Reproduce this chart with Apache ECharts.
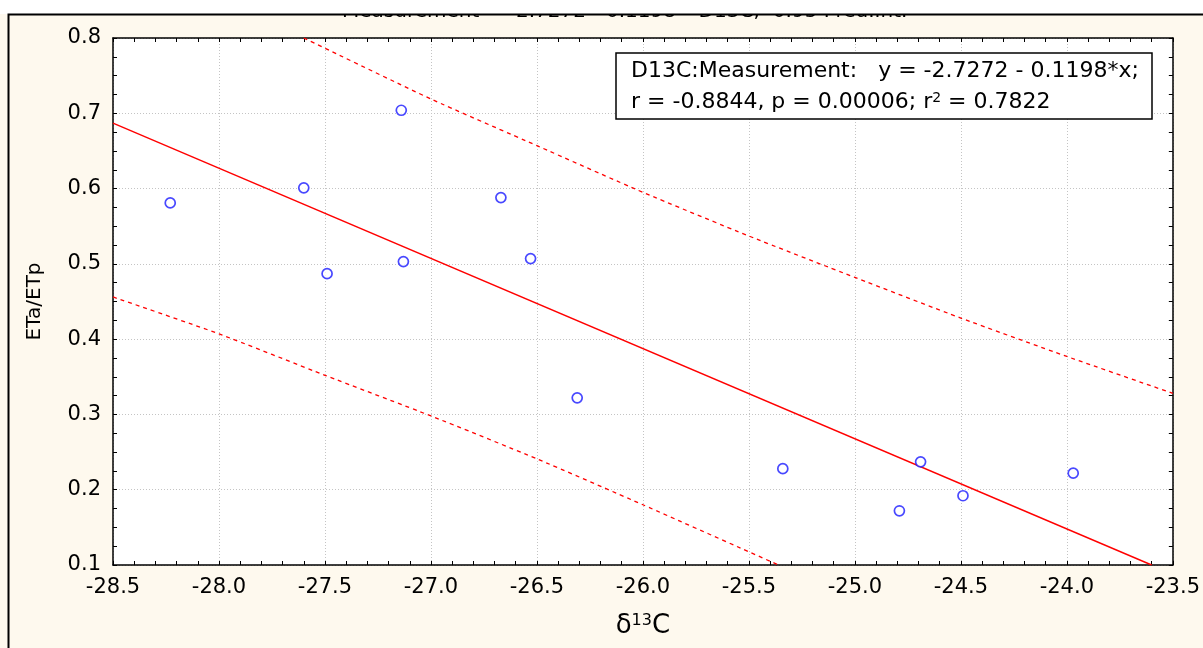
<!DOCTYPE html>
<html><head><meta charset="utf-8">
<script src="https://cdn.jsdelivr.net/npm/echarts@6/dist/echarts.min.js"></script>
<style>html,body{margin:0;padding:0;background:#fff}#c{width:1203px;height:648px}</style>
</head><body><div id="c"></div>
<script>
const d13c    = [-28.23, -27.60, -27.49, -27.14, -27.13, -26.67, -26.53, -26.31, -25.34, -24.79, -24.69, -24.49, -23.97];
const etaEtp  = [0.581, 0.601, 0.487, 0.704, 0.503, 0.588, 0.507, 0.322, 0.228, 0.172, 0.237, 0.192, 0.222];
// Regression line (read endpoints)
const fitX = [-28.5, -23.6];
const fitY = [0.687, 0.1];
// 0.95 prediction interval bands
const upperX = [-27.60, -27.0, -26.5, -26.0, -25.5, -25.0, -24.5, -24.0, -23.5];
const upperY = [0.8, 0.719, 0.657, 0.595, 0.537, 0.482, 0.428, 0.377, 0.328];
const lowerX = [-28.5, -28.0, -27.5, -27.0, -26.5, -26.0, -25.36];
const lowerY = [0.456, 0.407, 0.352, 0.298, 0.241, 0.180, 0.1];
// Texts
const legendLine1 = 'D13C:Measurement:   y = -2.7272 - 0.1198*x;';
const legendLine2 = 'r = -0.8844, p = 0.00006; r{sup|2} = 0.7822';
const titleText = 'Measurement = -2.7272 - 0.1198 * D13C;  0.95 Pred.Int.';
const yName = 'ETa/ETp';
const xName = '\u03b4{sup|13}C';

const zip = (a, b) => a.map((v, i) => [v, b[i]]);
const FONT = 'DejaVu Sans';

const chart = echarts.init(document.getElementById('c'), null, {renderer: 'canvas'});

function xAx(pos, showLabels) {
  return {
    type: 'value', position: pos, min: -28.5, max: -23.5, interval: 0.5,
    axisLine: {show: true, onZero: false, lineStyle: {color: '#000', width: 1.5}},
    axisTick: {show: true, inside: true, length: 4, lineStyle: {color: '#000', width: 1}},
    minorTick: {show: true, splitNumber: 5, length: 4, lineStyle: {color: '#000', width: 1}},
    axisLabel: {show: showLabels, color: '#000', fontFamily: FONT, fontSize: 21, margin: 12,
      formatter: v => v.toFixed(1)},
    splitLine: {show: showLabels, lineStyle: {color: '#c4c4c4', type: [1, 2], width: 1}},
    minorSplitLine: {show: false}
  };
}
function yAx(pos, showLabels) {
  return {
    type: 'value', position: pos, min: 0.1, max: 0.8, interval: 0.1,
    axisLine: {show: true, onZero: false, lineStyle: {color: '#000', width: 1.5}},
    axisTick: {show: true, inside: true, length: 4, lineStyle: {color: '#000', width: 1}},
    minorTick: {show: true, splitNumber: 4, length: 4, lineStyle: {color: '#000', width: 1}},
    axisLabel: {show: showLabels, color: '#000', fontFamily: FONT, fontSize: 21, margin: 12,
      formatter: v => v.toFixed(1)},
    splitLine: {show: showLabels, lineStyle: {color: '#c4c4c4', type: [1, 2], width: 1}},
    minorSplitLine: {show: false}
  };
}

const xBottom = Object.assign(xAx('bottom', true), {
  name: xName, nameLocation: 'middle', nameGap: 48,
  nameTextStyle: {color: '#000', fontFamily: FONT, fontSize: 26,
    rich: {sup: {fontSize: 16, verticalAlign: 'top', color: '#000', fontFamily: FONT}}}
});
const yLeft = Object.assign(yAx('left', true), {
  name: yName, nameLocation: 'middle', nameGap: 68,
  nameTextStyle: {color: '#000', fontFamily: FONT, fontSize: 20}
});

const option = {
  backgroundColor: '#fef9ee',
  animation: false,
  grid: {left: 113, right: 29, top: 38, bottom: 83, show: true, backgroundColor: '#fff', borderWidth: 0},
  xAxis: [xBottom, xAx('top', false)],
  yAxis: [yLeft, yAx('right', false)],
  graphic: [
    {type: 'text', z: 1, left: 342, top: 2,
      style: {text: titleText, fontFamily: FONT, fontSize: 20, fill: '#000'}},
    {type: 'rect', z: 2, shape: {x: 0, y: 0, width: 1203, height: 14}, style: {fill: '#fff'}},
    {type: 'rect', z: 3, shape: {x: 8.5, y: 14.5, width: 1300, height: 800},
      style: {fill: 'none', stroke: '#000', lineWidth: 2}},
    {type: 'rect', z: 100, shape: {x: 616, y: 53, width: 536, height: 66},
      style: {fill: '#fff', stroke: '#000', lineWidth: 1.5}},
    {type: 'text', z: 101, x: 631, y: 71,
      style: {text: legendLine1, fontFamily: FONT, fontSize: 22, fill: '#000', verticalAlign: 'middle'}},
    {type: 'text', z: 101, x: 631, y: 102,
      style: {text: legendLine2, fontFamily: FONT, fontSize: 22, fill: '#000', verticalAlign: 'middle',
        rich: {sup: {fontSize: 14, verticalAlign: 'top', fontFamily: FONT, fill: '#000'}}}}
  ],
  series: [
    {type: 'line', data: zip(fitX, fitY), symbol: 'none', clip: true,
      lineStyle: {color: '#ff0000', width: 1.4}, z: 3},
    {type: 'line', data: zip(upperX, upperY), symbol: 'none', clip: true, smooth: 0.2,
      lineStyle: {color: '#ff0000', width: 1.3, type: [4, 4]}, z: 3},
    {type: 'line', data: zip(lowerX, lowerY), symbol: 'none', clip: true, smooth: 0.2,
      lineStyle: {color: '#ff0000', width: 1.3, type: [4, 4]}, z: 3},
    {type: 'scatter', data: zip(d13c, etaEtp), symbol: 'circle', symbolSize: 10,
      itemStyle: {color: '#fff', borderColor: '#1a1aff', borderWidth: 1.7}, z: 4}
  ]
};
chart.setOption(option);
</script></body></html>
